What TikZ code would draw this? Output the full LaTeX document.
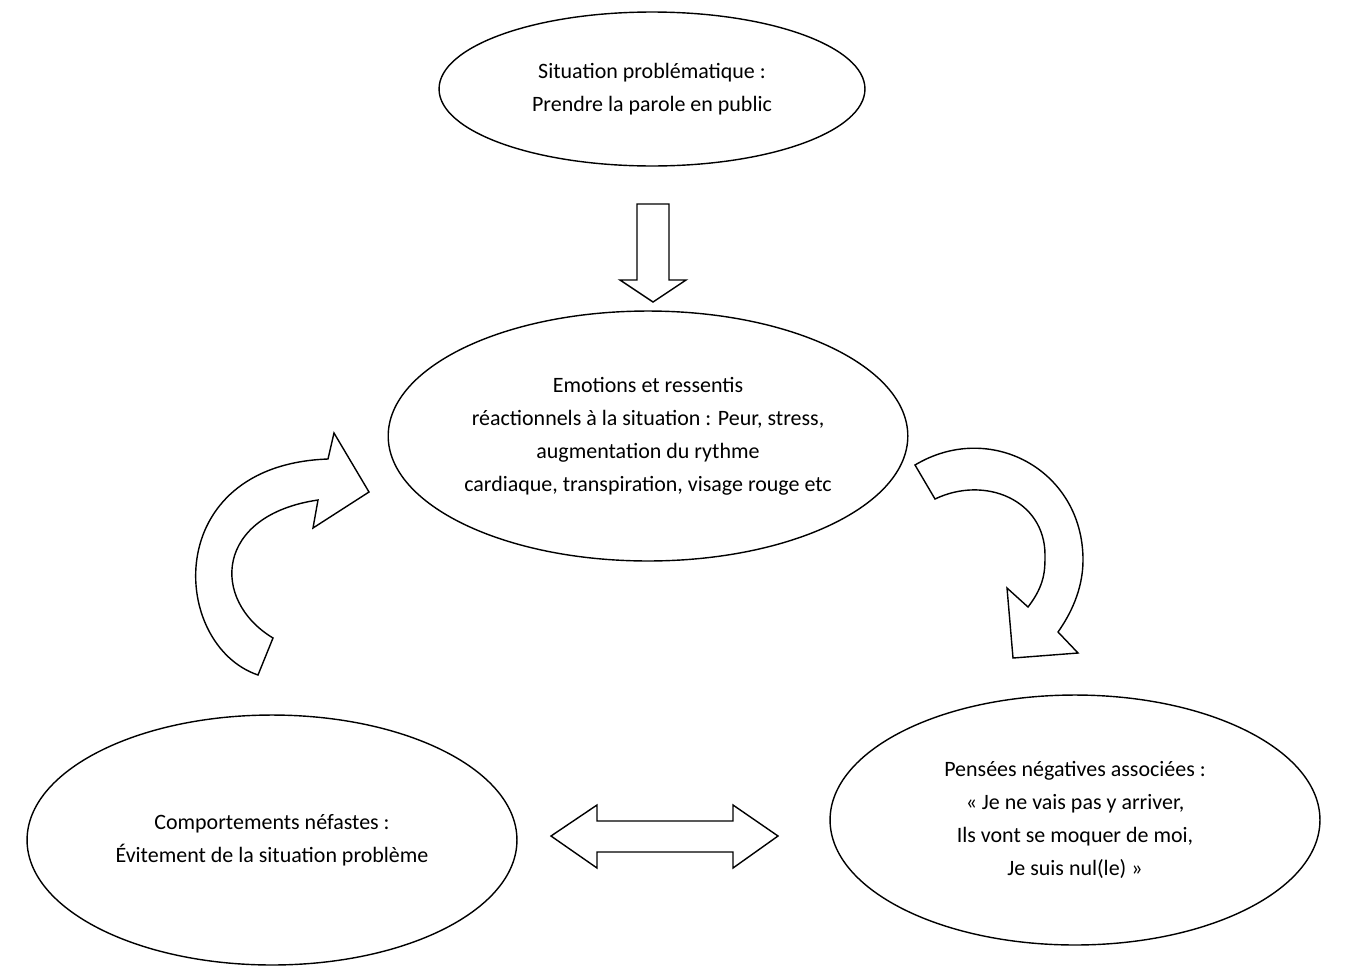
\documentclass[tikz,border=0pt]{standalone}
\usepackage{fontspec}
\setmainfont{Carlito}
\usetikzlibrary{shapes.geometric}
\tikzset{bubble/.style={draw,thick,ellipse,inner sep=0pt,align=center,
  font=\fontsize{12.5pt}{18.8pt}\selectfont},
  blockarrow/.style={draw,thick,fill=white,line join=miter}}
\begin{document}
\begin{tikzpicture}[x=0.02cm,y=-0.02cm]
\useasboundingbox (0,0) rectangle (1354,974);
\node[bubble,minimum width=8.52cm,minimum height=3.08cm] (sit) at (652,89) {Situation problématique :\\Prendre la parole en public};
\node[bubble,minimum width=9.8cm,minimum height=5cm] (emo) at (648,436) {Emotions et ressentis\\réactionnels à la situation : Peur, stress,\\augmentation du rythme\\cardiaque, transpiration, visage rouge etc};
\node[bubble,minimum width=9.8cm,minimum height=5cm] (comp) at (272,840) {Comportements néfastes :\\Évitement de la situation problème};
\node[bubble,minimum width=9.8cm,minimum height=5cm] (pens) at (1075,820) {Pensées négatives associées :\\« Je ne vais pas y arriver,\\Ils vont se moquer de moi,\\Je suis nul(le) »};
% fleche vers le bas
\draw[blockarrow] (637,204) -- (669,204) -- (669,280) -- (686,280) -- (653,302) -- (620,280) -- (637,280) -- cycle;
% fleche double
\draw[blockarrow] (551,836) -- (597,805) -- (597,821) -- (733,821) -- (733,805) -- (778,836)
  -- (733,868) -- (733,852) -- (597,852) -- (597,868) -- cycle;
% fleche courbe gauche
\draw[blockarrow] (258,675) .. controls (170,645) and (160,465) .. (328,459)
  -- (334,433) -- (369,492) -- (313,528) -- (318,500)
  .. controls (215,515) and (210,600) .. (273,638) -- cycle;
% fleche courbe droite
\draw[blockarrow] (915,465) .. controls (990,420) and (1083,470) .. (1083,560)
  .. controls (1083,590) and (1070,615) .. (1058,632)
  -- (1078,653) -- (1013,658) -- (1007,588) -- (1028,607)
  .. controls (1045,585) and (1045,570) .. (1045,555)
  .. controls (1045,500) and (985,475) .. (935,499) -- cycle;
\end{tikzpicture}
\end{document}
